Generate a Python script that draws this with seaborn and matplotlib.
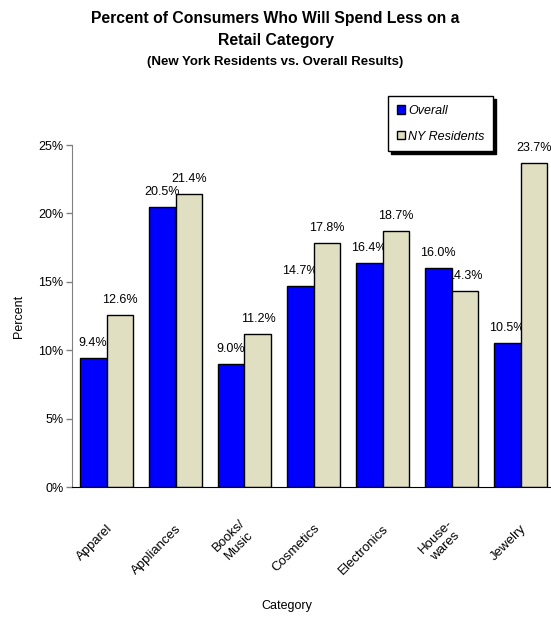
import matplotlib
matplotlib.use("Agg")
import matplotlib.pyplot as plt
import matplotlib.transforms as mtransforms
from matplotlib.ticker import PercentFormatter
import seaborn as sns
import pandas as pd

categories = ["Apparel", "Appliances", "Books/\nMusic", "Cosmetics",
              "Electronics", "House-\nwares", "Jewelry"]
overall = [9.4, 20.5, 9.0, 14.7, 16.4, 16.0, 10.5]
ny_residents = [12.6, 21.4, 11.2, 17.8, 18.7, 14.3, 23.7]
groups = ["Overall", "NY Residents"]

df = pd.DataFrame({
    "Category": categories * 2,
    "Percent": overall + ny_residents,
    "Group": ["Overall"] * len(categories) + ["NY Residents"] * len(categories),
})

sns.set_style("white")
plt.rcParams["font.family"] = ["Liberation Sans", "DejaVu Sans"]
plt.rcParams["text.color"] = "black"
plt.rcParams["axes.labelcolor"] = "black"
plt.rcParams["xtick.color"] = "black"
plt.rcParams["ytick.color"] = "black"

fig = plt.figure(figsize=(5.51, 6.18), dpi=100)
ax = fig.add_axes([72 / 551, 1 - 487 / 618, 483 / 551, 342 / 618])

sns.barplot(data=df, x="Category", y="Percent", hue="Group", hue_order=groups,
            palette=["#0000FF", "#E0DFC1"], width=0.78, edgecolor="black",
            linewidth=1, saturation=1, ax=ax, zorder=2)

# value labels, drawn under the bars like the original
for cont, vals in zip(ax.containers, [overall, ny_residents]):
    texts = ax.bar_label(cont, labels=[f"{v:.1f}%" for v in vals],
                         padding=6.5, fontsize=9, clip_on=False)
    for t in texts:
        t.set_zorder(1)

ax.set_ylim(0, 25)
ax.set_xlim(-0.5, 6.5)
ax.set_yticks([0, 5, 10, 15, 20, 25])
ax.yaxis.set_major_formatter(PercentFormatter(decimals=0))
ax.tick_params(axis="y", left=True, length=4, width=1, color="#808080",
               labelcolor="black", labelsize=9, pad=2)
ax.tick_params(axis="x", bottom=False, labelsize=9.5, pad=25)
shift = mtransforms.ScaledTranslation(4 / 100, 0, fig.dpi_scale_trans)
for lab in ax.get_xticklabels():
    lab.set_rotation(45)
    lab.set_ha("right")
    lab.set_va("center")
    lab.set_rotation_mode("anchor")
    lab.set_multialignment("center")
    lab.set_transform(lab.get_transform() + shift)

sns.despine(ax=ax, top=True, right=True)
ax.spines["left"].set_color("#808080")
ax.spines["bottom"].set_color("black")

ax.set_ylabel("Percent", fontsize=9)
ax.yaxis.set_label_coords(-0.097, 0.5)
ax.set_xlabel("Category", fontsize=9)
ax.xaxis.set_label_coords(0.445, -(600 - 487) / 342)

leg = ax.legend(loc="upper left", bbox_to_anchor=(388 / 551, 1 - 96 / 618),
                bbox_transform=fig.transFigure, borderaxespad=0,
                frameon=True, fancybox=False,
                shadow={"color": "black", "alpha": 1}, edgecolor="black",
                prop={"style": "italic", "size": 9}, handlelength=0.65,
                handleheight=0.65, handletextpad=0.25, borderpad=0.7,
                labelspacing=1.1)
leg.get_frame().set_linewidth(1)

fig.text(0.5, 1 - 18 / 618, "Percent of Consumers Who Will Spend Less on a",
         ha="center", va="center", fontsize=11.3, fontweight="bold")
fig.text(0.5, 1 - 41 / 618, "Retail Category",
         ha="center", va="center", fontsize=11.3, fontweight="bold")
fig.text(0.5, 1 - 62 / 618, "(New York Residents vs. Overall Results)",
         ha="center", va="center", fontsize=9.5, fontweight="bold")

fig.savefig("out.png", dpi=100)
